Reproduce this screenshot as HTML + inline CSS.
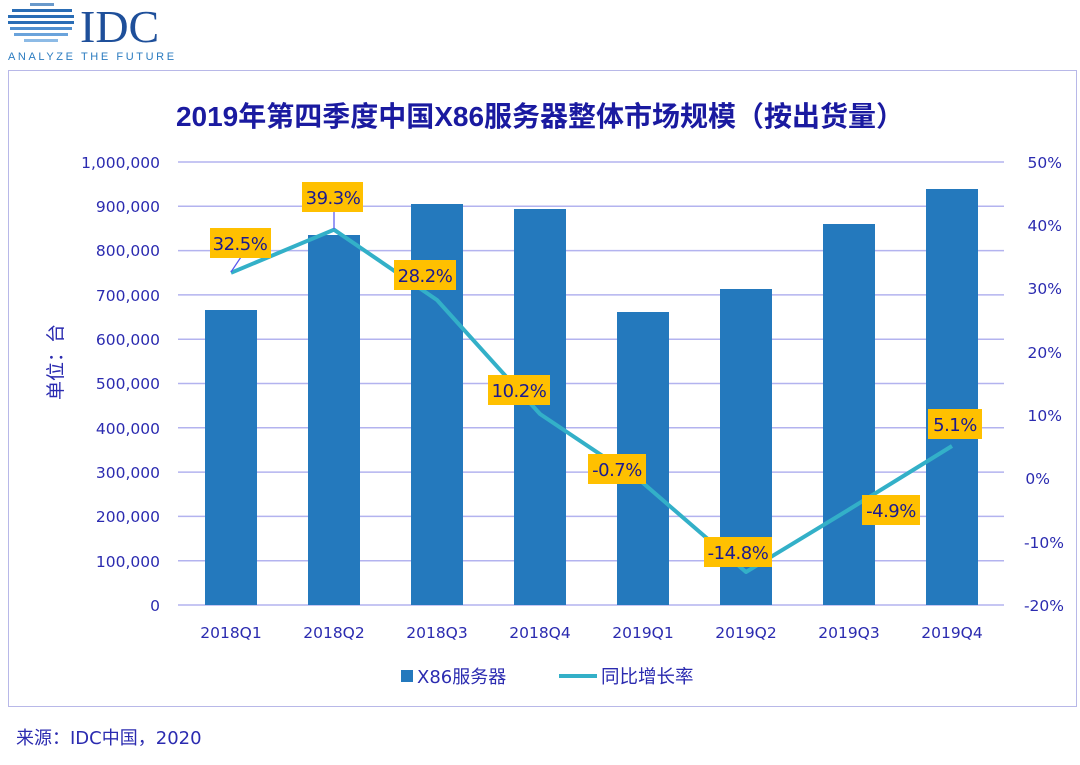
<!DOCTYPE html><html><head><meta charset="utf-8"><style>body{margin:0;background:#fff;width:1080px;height:760px;overflow:hidden}</style></head><body>
<svg width="1080" height="760" xmlns="http://www.w3.org/2000/svg" font-family="DejaVu Sans, Noto Sans CJK SC, sans-serif">
<g fill="#2a6db5">
<rect x="30" y="3" width="24" height="3" opacity=".7"/><rect x="12" y="9" width="60" height="3"/><rect x="8" y="15" width="66" height="3"/><rect x="8" y="21" width="66" height="3"/><rect x="10" y="27" width="62" height="3" fill="#4f8fd0"/><rect x="14" y="33" width="54" height="3" fill="#6aa3db"/><rect x="24" y="39" width="34" height="3" fill="#8dbbe6"/>
</g>
<text x="80" y="42" font-family="Liberation Serif, serif" font-size="46" fill="#1e4f9a">IDC</text>
<text x="8" y="60" font-family="Liberation Sans, sans-serif" font-size="11" fill="#2a7bc0" letter-spacing="2.6">ANALYZE THE FUTURE</text>
<rect x="8.5" y="70.5" width="1068" height="636" fill="none" stroke="#b8b8e8"/>
<text x="540" y="126" text-anchor="middle" font-family="Liberation Sans, Noto Sans CJK SC, sans-serif" font-size="28" font-weight="bold" fill="#1a1aa0">2019年第四季度中国X86服务器整体市场规模（按出货量）</text>
<g stroke="#b3b3ef" stroke-width="1.5">
<line x1="178" x2="1004" y1="162" y2="162"/><line x1="178" x2="1004" y1="206.3" y2="206.3"/><line x1="178" x2="1004" y1="250.6" y2="250.6"/><line x1="178" x2="1004" y1="294.9" y2="294.9"/><line x1="178" x2="1004" y1="339.2" y2="339.2"/><line x1="178" x2="1004" y1="383.5" y2="383.5"/><line x1="178" x2="1004" y1="427.8" y2="427.8"/><line x1="178" x2="1004" y1="472.1" y2="472.1"/><line x1="178" x2="1004" y1="516.4" y2="516.4"/><line x1="178" x2="1004" y1="560.7" y2="560.7"/><line x1="178" x2="1004" y1="605" y2="605"/>
</g>
<g font-size="15.5" fill="#2b2bb0" text-anchor="end">
<text x="160" y="168">1,000,000</text><text x="160" y="212">900,000</text><text x="160" y="256">800,000</text><text x="160" y="301">700,000</text><text x="160" y="345">600,000</text><text x="160" y="389">500,000</text><text x="160" y="434">400,000</text><text x="160" y="478">300,000</text><text x="160" y="522">200,000</text><text x="160" y="567">100,000</text><text x="160" y="611">0</text>
</g>
<g font-size="15.5" fill="#2b2bb0" text-anchor="end">
<text x="1062" y="168">50%</text><text x="1062" y="231">40%</text><text x="1062" y="294">30%</text><text x="1062" y="358">20%</text><text x="1062" y="421">10%</text><text x="1050" y="484">0%</text><text x="1064" y="548">-10%</text><text x="1064" y="611">-20%</text>
</g>
<text transform="translate(62,362) rotate(-90)" text-anchor="middle" font-size="19" fill="#2b2bb0">单位：台</text>
<g fill="#2479bd">
<rect x="205" y="310" width="52" height="295"/><rect x="308" y="235" width="52" height="370"/><rect x="411" y="204" width="52" height="401"/><rect x="514" y="209" width="52" height="396"/><rect x="617" y="312" width="52" height="293"/><rect x="720" y="289" width="52" height="316"/><rect x="823" y="224" width="52" height="381"/><rect x="926" y="189" width="52" height="416"/>
</g>
<g font-size="15.5" fill="#2b2bb0" text-anchor="middle">
<text x="231" y="638">2018Q1</text><text x="334" y="638">2018Q2</text><text x="437" y="638">2018Q3</text><text x="540" y="638">2018Q4</text><text x="643" y="638">2019Q1</text><text x="746" y="638">2019Q2</text><text x="849" y="638">2019Q3</text><text x="952" y="638">2019Q4</text>
</g>
<polyline points="231,272.8 334,229.7 437,300 540,414 643,483 746,572 849,509.5 952,446" fill="none" stroke="#33b0c8" stroke-width="4" stroke-linejoin="round"/>
<g stroke="#5555ee" stroke-width="1.2"><line x1="231" y1="272" x2="241" y2="257"/><line x1="334" y1="229" x2="334" y2="212"/></g>
<g font-size="18" fill="#1a1a90" text-anchor="middle" letter-spacing="-0.5">
<rect x="210" y="228" width="61" height="30" fill="#ffc000"/><text x="240" y="250">32.5%</text>
<rect x="302" y="182" width="61" height="30" fill="#ffc000"/><text x="333" y="204">39.3%</text>
<rect x="394" y="260" width="62" height="30" fill="#ffc000"/><text x="425" y="282">28.2%</text>
<rect x="488" y="375" width="62" height="30" fill="#ffc000"/><text x="519" y="397">10.2%</text>
<rect x="588" y="454" width="58" height="30" fill="#ffc000"/><text x="617" y="476">-0.7%</text>
<rect x="704" y="537" width="68" height="30" fill="#ffc000"/><text x="738" y="559">-14.8%</text>
<rect x="862" y="495" width="58" height="30" fill="#ffc000"/><text x="891" y="517">-4.9%</text>
<rect x="928" y="409" width="54" height="30" fill="#ffc000"/><text x="955" y="431">5.1%</text>
</g>
<rect x="401" y="670" width="12" height="12" fill="#2479bd"/>
<text x="417" y="683" font-size="18" fill="#2b2bb0">X86服务器</text>
<line x1="559" y1="676" x2="597" y2="676" stroke="#33b0c8" stroke-width="4"/>
<text x="601" y="683" font-size="18.5" fill="#2b2bb0">同比增长率</text>
<text x="16" y="744" font-size="18" fill="#2b2bb0">来源：IDC中国，2020</text>
</svg></body></html>
